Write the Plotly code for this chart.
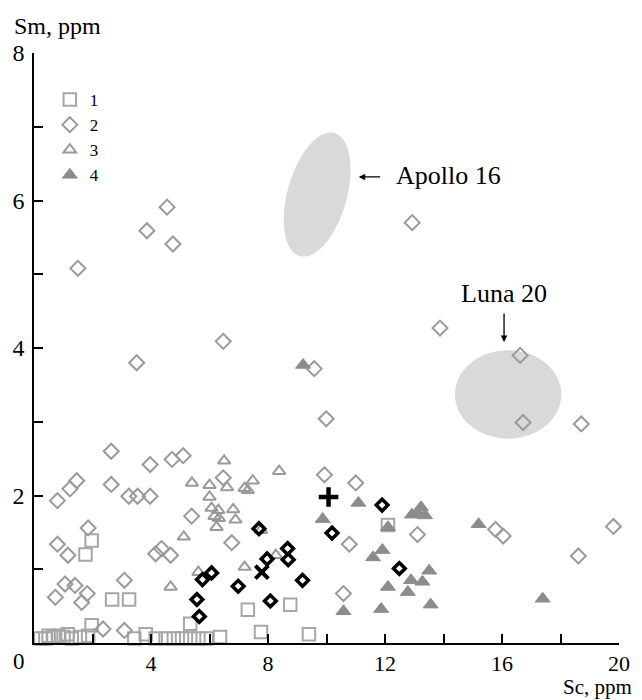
import math
import plotly.graph_objects as go

# ---------------- data (Sc, Sm in ppm) ----------------
s1_sc = [0.22, 0.39, 0.50, 0.67, 0.84, 1.01, 1.15, 1.29, 1.57, 1.85, 1.97, 3.43, 3.82, 4.16, 4.50,
         4.78, 5.06, 5.34, 5.34, 5.62, 5.90, 6.36, 7.76, 9.40, 2.67, 3.25, 7.31, 8.76, 1.97, 1.76, 12.10]
s1_sm = [0.06, 0.06, 0.10, 0.08, 0.10, 0.08, 0.12, 0.06, 0.08, 0.10, 0.24, 0.06, 0.12, 0.06, 0.06,
         0.06, 0.06, 0.06, 0.26, 0.06, 0.06, 0.08, 0.15, 0.12, 0.59, 0.59, 0.45, 0.52, 1.39, 1.20, 1.60]

s2_sc = [1.50, 3.86, 4.55, 4.75, 12.93, 6.47, 3.51, 13.88, 16.62, 9.58, 9.99, 16.72, 18.71, 19.81,
         18.61, 15.78, 16.04, 13.11, 5.10, 4.72, 6.47, 5.39, 6.76, 9.93, 11.00, 10.78, 10.58, 2.64,
         0.80, 1.23, 1.46, 2.64, 3.24, 3.54, 3.97, 3.97, 1.85, 0.80, 1.16, 4.16, 4.36, 4.67, 0.73,
         1.06, 1.40, 1.63, 1.82, 3.09, 2.36, 3.09]
s2_sm = [5.08, 5.59, 5.91, 5.41, 5.70, 4.09, 3.80, 4.27, 3.90, 3.72, 3.04, 2.99, 2.97, 1.58,
         1.18, 1.54, 1.45, 1.47, 2.54, 2.49, 2.24, 1.72, 1.36, 2.28, 2.17, 1.34, 0.67, 2.60,
         1.93, 2.09, 2.20, 2.15, 1.99, 1.99, 1.99, 2.42, 1.56, 1.34, 1.19, 1.21, 1.28, 1.19, 0.62,
         0.80, 0.78, 0.55, 0.67, 0.85, 0.19, 0.17]

s3_sc = [6.50, 8.38, 5.40, 6.00, 6.60, 7.48, 7.20, 7.31, 6.00, 6.07, 6.30, 6.81, 6.17, 6.32, 6.89,
         6.24, 5.12, 7.20, 5.62, 7.76, 8.27, 4.67]
s3_sm = [2.47, 2.33, 2.17, 2.14, 2.11, 2.20, 2.10, 2.07, 1.98, 1.83, 1.80, 1.81, 1.72, 1.69, 1.67,
         1.57, 1.44, 1.03, 0.96, 1.53, 1.19, 0.76]

s4_sc = [9.20, 11.09, 9.87, 12.92, 12.10, 11.91, 11.59, 12.10, 11.87, 10.58, 13.11, 13.37, 13.23,
         15.20, 12.89, 13.28, 13.51, 12.78, 13.56, 17.39]
s4_sm = [3.77, 1.90, 1.68, 1.74, 1.57, 1.26, 1.16, 0.76, 0.46, 0.43, 1.77, 1.73, 1.84,
         1.61, 0.85, 0.83, 0.98, 0.69, 0.52, 0.60]

blk_sc = [7.69, 8.67, 8.69, 7.97, 6.07, 5.76, 6.98, 9.18, 5.57, 8.08, 5.65, 10.19, 11.90, 12.49]
blk_sm = [1.55, 1.28, 1.13, 1.14, 0.95, 0.86, 0.77, 0.85, 0.59, 0.57, 0.36, 1.49, 1.87, 1.01]

x_mark_sc = [7.79]
x_mark_sm = [0.96]
plus_sc = [10.07]
plus_sm = [1.98]

legend_names = ["1", "2", "3", "4"]

x_tickvals = [0, 2, 4, 6, 8, 10, 12, 14, 16, 18, 20]
x_ticktext = ["", "", "4", "", "8", "", "12", "", "16", "", "20"]
y_tickvals = [0, 1, 2, 3, 4, 5, 6, 7, 8]
y_ticktext = ["", "", "2", "", "4", "", "6", "", "8"]

# fields (center Sc, center Sm, semi-axes in px, tilt deg)
apollo = dict(cx=9.68, cy=6.08, a_px=64, b_px=30, tilt=16)
luna = dict(cx=16.21, cy=3.37, rx=1.82, ry=0.60)

# ---------------- figure ----------------
W, H = 642, 700
ML, MR, MT, MB = 34, 16, 53, 57
XR = (0, 20)
YR = (0, 8)
sx = (W - ML - MR) / (XR[1] - XR[0])
sy = (H - MT - MB) / (YR[1] - YR[0])
PW, PH = W - ML - MR, H - MT - MB

SERIF = "Liberation Serif, Times New Roman, serif"
GRAY = "#9a9a9a"
GRAY_F = "#8c8c8c"

fig = go.Figure()

fig.add_trace(go.Scatter(x=s1_sc, y=s1_sm, mode="markers", name=legend_names[0],
                         marker=dict(symbol="square-open", size=12.5, color="#a6a6a6",
                                     line=dict(width=2, color="#a6a6a6")), cliponaxis=False))
fig.add_trace(go.Scatter(x=s2_sc, y=s2_sm, mode="markers", name=legend_names[1],
                         marker=dict(symbol="diamond-open", size=11.5, color=GRAY,
                                     line=dict(width=2, color=GRAY)), cliponaxis=False))
fig.add_trace(go.Scatter(x=s3_sc, y=s3_sm, mode="markers", name=legend_names[2],
                         marker=dict(symbol="triangle-up-open", size=11, color=GRAY,
                                     line=dict(width=2, color=GRAY)), cliponaxis=False))
fig.add_trace(go.Scatter(x=s4_sc, y=s4_sm, mode="markers", name=legend_names[3],
                         marker=dict(symbol="triangle-up", size=13, color=GRAY_F,
                                     line=dict(width=1, color=GRAY_F)), cliponaxis=False))
fig.add_trace(go.Scatter(x=blk_sc, y=blk_sm, mode="markers", showlegend=False,
                         marker=dict(symbol="diamond-open", size=9, color="black",
                                     line=dict(width=3.5, color="black")), cliponaxis=False))
fig.add_trace(go.Scatter(x=x_mark_sc, y=x_mark_sm, mode="markers", showlegend=False,
                         marker=dict(symbol="x-thin", size=13, color="black",
                                     line=dict(width=4, color="black")), cliponaxis=False))
fig.add_trace(go.Scatter(x=plus_sc, y=plus_sm, mode="markers", showlegend=False,
                         marker=dict(symbol="cross-thin", size=14, color="black",
                                     line=dict(width=4.5, color="black")), cliponaxis=False))

# Apollo 16 tilted ellipse (path built from its parameters)
th = math.radians(apollo["tilt"])
pts = []
for i in range(73):
    t = 2 * math.pi * i / 72
    u = apollo["b_px"] * math.cos(t)
    v = apollo["a_px"] * math.sin(t)
    dx = u * math.cos(th) + v * math.sin(th)
    dy = -u * math.sin(th) + v * math.cos(th)
    pts.append((apollo["cx"] + dx / sx, apollo["cy"] + dy / sy))
path = "M " + " L ".join(f"{px:.4f},{py:.4f}" for px, py in pts) + " Z"
fig.add_shape(type="path", path=path, xref="x", yref="y", layer="below",
              fillcolor="#d9d9d9", line=dict(width=0))
fig.add_shape(type="circle", xref="x", yref="y", layer="below",
              x0=luna["cx"] - luna["rx"], x1=luna["cx"] + luna["rx"],
              y0=luna["cy"] - luna["ry"], y1=luna["cy"] + luna["ry"],
              fillcolor="#d9d9d9", line=dict(width=0))

# annotations
fig.add_annotation(x=11.1, y=6.32, ax=23, ay=0, text="", showarrow=True,
                   arrowhead=2, arrowsize=1, arrowwidth=1.3, arrowcolor="black")
fig.add_annotation(x=12.3, y=6.34, text="Apollo 16", showarrow=False, xanchor="left",
                   yanchor="middle", font=dict(family=SERIF, size=26, color="black"))
fig.add_annotation(x=16.07, y=4.08, ax=0, ay=-30, text="", showarrow=True,
                   arrowhead=2, arrowsize=1, arrowwidth=1.3, arrowcolor="black")
fig.add_annotation(x=16.07, y=4.74, text="Luna 20", showarrow=False, xanchor="center",
                   yanchor="middle", font=dict(family=SERIF, size=26, color="black"))

fig.add_annotation(xref="paper", yref="paper", x=(12 - ML) / PW,
                   y=1 + (MT - 26) / PH, text="Sm, ppm", showarrow=False,
                   xanchor="left", yanchor="middle", font=dict(family=SERIF, size=24, color="black"))
fig.add_annotation(xref="paper", yref="paper", x=(641 - ML) / PW,
                   y=-(687 - (H - MB)) / PH, text="Sc, ppm", showarrow=False,
                   xanchor="right", yanchor="middle", font=dict(family=SERIF, size=21, color="black"))
fig.add_annotation(xref="paper", yref="paper", x=(19 - ML) / PW,
                   y=-(661 - (H - MB)) / PH, text="0", showarrow=False,
                   xanchor="center", yanchor="middle", font=dict(family=SERIF, size=23, color="black"))

axis_common = dict(showgrid=False, zeroline=False, showline=True, linecolor="black",
                   linewidth=1.5, ticks="inside", ticklen=9, tickwidth=1.5, tickcolor="black",
                   tickmode="array", fixedrange=True)
fig.update_xaxes(range=list(XR), tickvals=x_tickvals, ticktext=x_ticktext, ticklabelstandoff=0,
                 tickfont=dict(family=SERIF, size=22, color="black"), **axis_common)
fig.update_yaxes(range=list(YR), tickvals=y_tickvals, ticktext=y_ticktext, ticklabelstandoff=3,
                 tickfont=dict(family=SERIF, size=24, color="black"), **axis_common)

fig.update_layout(
    width=W, height=H,
    margin=dict(l=ML, r=MR, t=MT, b=MB, pad=0),
    plot_bgcolor="white", paper_bgcolor="white",
    showlegend=True,
    legend=dict(x=(50 - ML) / PW, y=1 - (82 - MT) / PH,
                xanchor="left", yanchor="top", bgcolor="rgba(0,0,0,0)",
                font=dict(family=SERIF, size=17, color="black"), tracegroupgap=0,
                itemwidth=30),
)

fig.write_html("out.html")
